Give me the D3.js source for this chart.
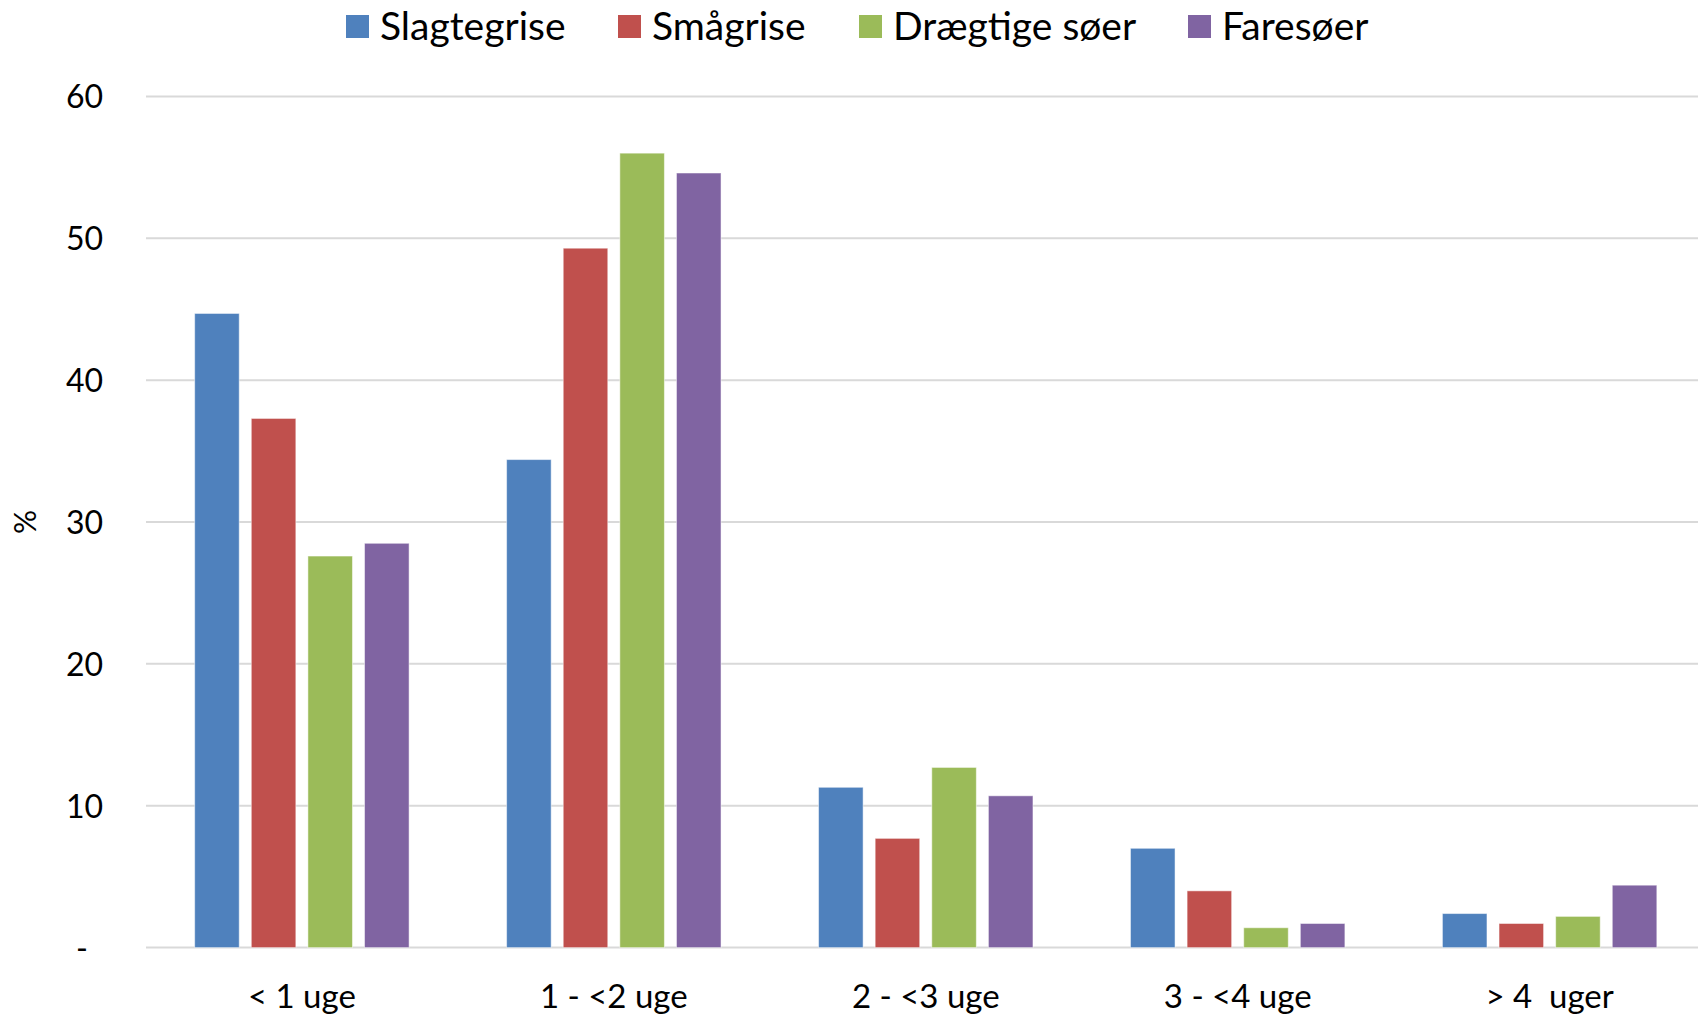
<!DOCTYPE html>
<html>
<head>
<meta charset="utf-8">
<script src="https://cdn.jsdelivr.net/npm/d3@7"></script>
<style>
  html, body { margin: 0; padding: 0; background: #fff; }
  svg { display: block; }
  text { font-family: Lato, "Open Sans", sans-serif; fill: #000; white-space: pre; }
</style>
</head>
<body>
<svg id="chart" width="1698" height="1015"></svg>
<script>
// Duration categories (x axis)
const categories = ["< 1 uge", "1 - <2 uge", "2 - <3 uge", "3 - <4 uge", ">\u00a04\u00a0\u00a0uger"];
// Animal groups (series)
const seriesNames = ["Slagtegrise", "Smågrise", "Drægtige søer", "Faresøer"];
const seriesColors = ["#4f81bd", "#c0504d", "#9bbb59", "#8064a2"];
// Percent per category, one array per series
const slagtegrise   = [44.7, 34.4, 11.3, 7.0, 2.4];
const smaagrise     = [37.3, 49.3, 7.7, 4.0, 1.7];
const draegtigeSoer = [27.6, 56.0, 12.7, 1.4, 2.2];
const faresoer      = [28.5, 54.6, 10.7, 1.7, 4.4];
const seriesValues = [slagtegrise, smaagrise, draegtigeSoer, faresoer];
// Y axis ticks
const yTicks = [0, 10, 20, 30, 40, 50, 60];

const svg = d3.select("#chart");
// The plot area runs slightly past the right edge of the canvas
const plotLeft = 146, plotRight = 1705.5, plotTop = 96.4, plotBottom = 947.6;

const x0 = d3.scaleBand().domain(categories).range([plotLeft, plotRight])
  .paddingInner(0.3126).paddingOuter(0.156);
const x1 = d3.scaleBand().domain(seriesNames).range([0, x0.bandwidth()])
  .paddingInner(0.213).paddingOuter(0);
const y = d3.scaleLinear().domain([0, 60]).range([plotBottom, plotTop]);

// Gridlines
svg.append("g").selectAll("line").data(yTicks).join("line")
  .attr("x1", plotLeft).attr("x2", 1698)
  .attr("y1", d => y(d)).attr("y2", d => y(d))
  .attr("stroke", "#d9d9d9").attr("stroke-width", 2);

// Y axis labels
const yAxis = d3.axisLeft(y).tickValues(yTicks)
  .tickFormat(d => d === 0 ? "-" : d).tickSize(0).tickPadding(0);
const gy = svg.append("g").attr("transform", `translate(103,0)`).call(yAxis);
gy.select(".domain").remove();
gy.selectAll("text").attr("font-size", 32).attr("font-family", "Lato, sans-serif")
  .attr("fill", "#000").attr("dy", "0.36em")
  .attr("dx", d => d === 0 ? -15 : 0);

// Y axis title
svg.append("text").attr("transform", "translate(36,522) rotate(-90)")
  .attr("text-anchor", "middle").attr("font-size", 30).text("%");

// Bars
const groups = svg.append("g").selectAll("g").data(categories).join("g")
  .attr("transform", c => `translate(${x0(c)},0)`);
groups.selectAll("rect")
  .data((c, ci) => seriesNames.map((s, si) => ({ s, si, v: seriesValues[si][ci] })))
  .join("rect")
  .attr("x", d => x1(d.s))
  .attr("width", x1.bandwidth())
  .attr("y", d => y(d.v))
  .attr("height", d => y(0) - y(d.v))
  .attr("fill", d => seriesColors[d.si])
  .attr("stroke", "#ffffff").attr("stroke-opacity", 0.5).attr("stroke-width", 1);

// X axis labels
const xAxis = d3.axisBottom(x0).tickSize(0).tickPadding(0);
const gx = svg.append("g").attr("transform", `translate(0,${plotBottom})`).call(xAxis);
gx.select(".domain").remove();
gx.selectAll("text").attr("font-size", 33).attr("font-family", "Lato, sans-serif")
  .attr("fill", "#000").attr("dy", 0).attr("y", 60);

// Legend
const legendX = [346, 618, 859, 1188];
const legend = svg.append("g").selectAll("g").data(seriesNames).join("g")
  .attr("transform", (d, i) => `translate(${legendX[i]},15)`);
legend.append("rect").attr("width", 23).attr("height", 23)
  .attr("fill", (d, i) => seriesColors[i]);
legend.append("text").attr("x", 34).attr("y", 25)
  .attr("font-size", 39).text(d => d);
</script>
</body>
</html>
